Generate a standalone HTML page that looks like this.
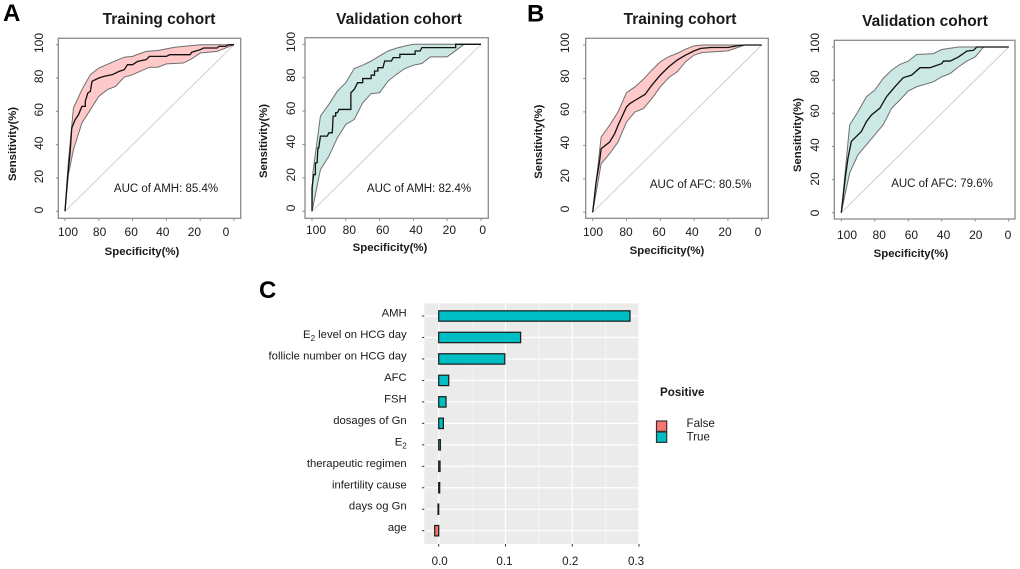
<!DOCTYPE html>
<html>
<head>
<meta charset="utf-8">
<title>ROC curves and feature importance</title>
<style>
html,body{margin:0;padding:0;background:#fff;width:1020px;height:569px;overflow:hidden}
svg{display:block;filter:blur(.3px)}
text{font-family:"Liberation Sans",sans-serif;fill:#1a1a1a}
</style>
</head>
<body>
<svg id="figure" xmlns="http://www.w3.org/2000/svg" width="1020" height="569" viewBox="0 0 1020 569">
  <text x="3" y="21" font-size="24" font-weight="bold" style="fill:#000">A</text>
  <text x="527" y="21.5" font-size="24" font-weight="bold" style="fill:#000">B</text>
  <text x="259" y="298" font-size="24" font-weight="bold" style="fill:#000">C</text>
</svg>
<script>
// ROC tick values
const rocTicks = [100, 80, 60, 40, 20, 0];
const rocDiagonal = [[100, 0], [0, 100]];

// Each curve: [specificity %, sensitivity %]
const a1Upper = [[100,0],[98,30],[95,62],[90,73],[85,82],[80,86],[72,89.5],[65,92.5],[60,93],[52,96],[45,96.5],[35,98.5],[20,100],[0,100]];
const a1Lower = [[100,0],[98,22],[95,37],[90,53],[85,61],[80,69],[75,73],[70,75],[65,80.5],[60,82],[50,86.5],[45,86.5],[40,88.5],[30,89],[25,91.5],[20,95],[10,96],[5,98],[0,100]];
const a1Mean = [[100,0],[98.5,20],[97,35],[96,50],[94,55],[92,58],[90,63],[88,63],[88,66],[86.5,71],[85,72],[84,78],[80,80],[77,81],[72,82],[68,84],[65,85],[63,88],[60,88],[57,90],[52,91],[50,93],[40,93],[38,94],[26,94],[25,95.5],[20,97],[18,98],[10,98],[9,99],[5,99],[3,100],[0,100]];

const a2Upper = [[100,0],[99.5,23],[95,57],[90,64],[85,72],[80,77],[75,85.5],[70,87.5],[65,90],[60,93],[55,96],[50,97.7],[45,99],[40,100],[15,100],[0,100]];
const a2Lower = [[100,0],[98,10],[95,25],[90,33],[85,44],[80,52],[75,55],[70,65],[65,70.5],[60,71],[55,78],[50,82],[45,85.5],[40,87.5],[35,88.5],[30,92.5],[20,92.5],[10,100],[0,100]];
const a2Mean = [[100,0],[100,14],[99,22],[98,22],[98,29],[97,29],[96.5,38],[96,38],[95,45],[91,45],[90,47],[88,47],[87.5,57],[86,57],[86,59],[85,59],[84,61],[77,61],[77,71],[75,73],[74,75],[73,77],[70,77],[70,79.5],[65,79.5],[65,81.5],[63,81.5],[63,84],[61,84],[61,86],[58,86],[57,90],[53,90],[52,92],[48,92],[48,94],[39,94],[39,96],[36,96],[35,98],[15,98],[15,100],[0,100]];

const b1Upper = [[100,0],[95,45],[90,52],[85,60],[80,71.5],[75,75],[70,79.5],[65,85],[60,90],[55,93],[50,95],[45,97.5],[40,99.5],[35,100],[20,100],[10,100],[0,100]];
const b1Lower = [[100,0],[95,29],[90,35],[85,42],[80,54],[75,60],[70,62],[65,68],[60,75],[55,80.5],[50,84],[45,90],[40,94],[35,95.5],[20,96.5],[10,100],[0,100]];
const b1Mean = [[100,0],[98,18],[96,30],[95,38],[90,42],[87,47],[85,52],[80,63],[78,65],[74,67.5],[69,70.5],[65,76],[60,82],[55,87],[50,91],[45,94],[40,96.5],[36,98],[30,98.5],[20,98.5],[15,99.5],[10,100],[0,100]];

const b2Upper = [[100,0],[95,53],[90,61],[85,70],[80,74],[75,81],[70,86],[65,89.5],[60,91.5],[55,95.5],[45,96],[40,98.5],[30,100],[0,100]];
const b2Lower = [[100,0],[98,10],[95,24],[90,35],[85,41],[80,47],[75,53],[70,63],[65,68],[60,73.5],[55,76],[45,79],[40,82],[35,84],[30,88],[25,91.5],[20,94],[15,100],[0,100]];
const b2Mean = [[100,0],[97.5,22],[96,33],[94,43],[90,47],[88,49],[85,55],[82,59],[77,63],[73,70],[68,76],[63,81.5],[58,83],[53,87.5],[47,87.5],[40,90],[39,91.5],[35,91.5],[30,94],[25,97.5],[21,98],[19,100],[0,100]];

// Feature importance
const featureNames = ["AMH","E2 level on HCG day","follicle number on HCG day","AFC","FSH","dosages of Gn","E2","therapeutic regimen","infertility cause","days og Gn","age"];
const featureValues = [0.2865,0.1227,0.099,0.015,0.011,0.007,0.0025,0.002,0.0015,-0.001,-0.006];
const importanceTicks = [0.0,0.1,0.2,0.3];
const importanceTickLabels = ["0.0","0.1","0.2","0.3"];
const importanceMinorTicks = [0.05,0.15,0.25];
const legendEntries = ["False","True"];

const NS = "http://www.w3.org/2000/svg";
const svg = document.getElementById("figure");
function mk(parent, tag, attrs, txt){
  const el = document.createElementNS(NS, tag);
  for (const k in attrs) el.setAttribute(k, attrs[k]);
  if (txt !== undefined) el.textContent = txt;
  parent.appendChild(el);
  return el;
}
function scaleLinear(d0, d1, r0, r1){
  return v => r0 + (v - d0) * (r1 - r0) / (d1 - d0);
}

function drawRoc(p){
  const g = mk(svg, "g", {});
  
  
  const X = scaleLinear(100, 0, p.x100, p.x0);
  const Y = scaleLinear(0, 100, p.y0, p.y100);
  const pts = a => a.map(d => X(d[0]).toFixed(2) + "," + Y(d[1]).toFixed(2)).join(" ");

  const band = mk(g, "polygon", {points: pts(p.upper.concat(p.lower.slice().reverse())), fill: p.fill, stroke: "none"});
  
  

  const diag = mk(g, "polyline", {points: pts(rocDiagonal), fill: "none", stroke: "#cfcfcf", "stroke-width": 1});
  
  

  const up = mk(g, "polyline", {points: pts(p.upper), fill: "none", stroke: "#6e6e6e", "stroke-width": 1});
  
  

  const lo = mk(g, "polyline", {points: pts(p.lower), fill: "none", stroke: "#6e6e6e", "stroke-width": 1});
  
  

  const mean = mk(g, "polyline", {points: pts(p.mean), fill: "none", stroke: "#111", "stroke-width": 1.3});
  
  

  const frame = mk(g, "rect", {x: p.fx0, y: p.fy0, width: p.fx1 - p.fx0, height: p.fy1 - p.fy0, fill: "none", stroke: "#8a8a8a", "stroke-width": 1.3});
  
  

  const LX = scaleLinear(100, 0, p.lx100, p.lx0);
  const LY = scaleLinear(0, 100, p.ly0, p.ly100);
  rocTicks.forEach(t => {
    const tx = mk(g, "line", {x1: X(t), x2: X(t), y1: p.fy1, y2: p.fy1 + 2.5, stroke: "#8a8a8a", "stroke-width": 1});
    
    

    const ty = mk(g, "line", {x1: p.fx0 - 2.5, x2: p.fx0, y1: Y(t), y2: Y(t), stroke: "#8a8a8a", "stroke-width": 1});
    
    

    const lx = mk(g, "text", {x: LX(t), y: p.lxY, "font-size": 12, "text-anchor": "middle"}, String(t));
    
    

    const ly = mk(g, "text", {transform: "translate(" + p.lyX + "," + LY(t) + ") rotate(-90)", "font-size": 12, "text-anchor": "middle"}, String(t));
    
    
  });

  const title = mk(g, "text", {x: p.tx, y: p.ty, "font-size": 15.5, "font-weight": "bold", "text-anchor": "middle"}, p.title);
  
  

  const xt = mk(g, "text", {x: p.xtX, y: p.xtY, "font-size": 11.4, "font-weight": "bold", "text-anchor": "middle"}, "Specificity(%)");
  
  

  const yt = mk(g, "text", {transform: "translate(" + p.ytX + "," + p.ytY + ") rotate(-90)", "font-size": 11.3, "font-weight": "bold", "text-anchor": "middle"}, "Sensitivity(%)");
  
  

  const auc = mk(g, "text", {x: p.aX, y: p.aY, "font-size": 11.5, "text-anchor": "middle"}, p.auc);
  
  
}

const PINK = "#ffc9c9", TEAL = "#cbe8e4";
drawRoc({id:"a-training",title:"Training cohort",auc:"AUC of AMH: 85.4%",upper:a1Upper,lower:a1Lower,mean:a1Mean,fill:PINK,
  fx0:58.3,fx1:240.7,fy0:38.3,fy1:218.3,x100:65,x0:234,y0:211.3,y100:44.7,
  lx100:68,lx0:226,lxY:236,ly0:210,ly100:43,lyX:43,tx:159,ty:24,xtX:142,xtY:255,ytX:16,ytY:144,aX:166,aY:192});
drawRoc({id:"a-validation",title:"Validation cohort",auc:"AUC of AMH: 82.4%",upper:a2Upper,lower:a2Lower,mean:a2Mean,fill:TEAL,
  fx0:305,fx1:488.3,fy0:37.7,fy1:218.3,x100:312,x0:481,y0:211.3,y100:44.3,
  lx100:316,lx0:482.7,lxY:234,ly0:208,ly100:42,lyX:295,tx:399,ty:24,xtX:390,xtY:251,ytX:267,ytY:141,aX:419,aY:192});
drawRoc({id:"b-training",title:"Training cohort",auc:"AUC of AFC: 80.5%",upper:b1Upper,lower:b1Lower,mean:b1Mean,fill:PINK,
  fx0:585.7,fx1:768.3,fy0:38.3,fy1:218.3,x100:592.7,x0:761.7,y0:212.3,y100:45,
  lx100:593,lx0:758,lxY:236,ly0:209,ly100:43,lyX:569,tx:680,ty:24,xtX:667,xtY:254,ytX:542,ytY:141.7,aX:700.7,aY:188});
drawRoc({id:"b-validation",title:"Validation cohort",auc:"AUC of AFC: 79.6%",upper:b2Upper,lower:b2Lower,mean:b2Mean,fill:TEAL,
  fx0:834.3,fx1:1015,fy0:40.3,fy1:219,x100:841.3,x0:1008.7,y0:212.7,y100:47,
  lx100:847,lx0:1008,lxY:239,ly0:213,ly100:43,lyX:819,tx:925,ty:26,xtX:911,xtY:257,ytX:801,ytY:135,aX:942,aY:187});

// Panel C
(function(){
  const g = mk(svg, "g", {});
  
  
  const left = 424.3, right = 639, top = 303.3, bottom = 544;
  const X = scaleLinear(0, 0.3, 438.7, 639);
  const Y = i => 316 + i * (530.7 - 316) / (featureNames.length - 1);

  const bg = mk(g, "rect", {x: left, y: top, width: right - left, height: bottom - top, fill: "#ebebeb"});
  
  

  importanceMinorTicks.forEach(t => {
    const l = mk(g, "line", {x1: X(t), x2: X(t), y1: top, y2: bottom, stroke: "#f7f7f7", "stroke-width": 0.7});
    
    
  });
  importanceTicks.forEach(t => {
    const l = mk(g, "line", {x1: X(t), x2: X(t), y1: top, y2: bottom, stroke: "#fff", "stroke-width": 1.2});
    
    
  });
  featureNames.forEach((n, i) => {
    const l = mk(g, "line", {x1: left, x2: right, y1: Y(i), y2: Y(i), stroke: "#fff", "stroke-width": 1.2});
    
    
  });

  featureNames.forEach((n, i) => {
    const v = featureValues[i];
    const x0 = Math.min(X(0), X(v)), x1 = Math.max(X(0), X(v));
    const bar = mk(g, "rect", {x: x0, y: Y(i) - 5.2, width: x1 - x0, height: 10.4, fill: v >= 0 ? "#00BFC4" : "#F8766D", stroke: "#1a1a1a", "stroke-width": 1.2});
    
    

    const tick = mk(g, "line", {x1: 422, x2: 424.3, y1: Y(i), y2: Y(i), stroke: "#333", "stroke-width": 1});
    
    

    const lab = mk(g, "text", {x: 406.7, y: Y(i) + 0.5, "font-size": 11.3, "text-anchor": "end"});
    
    
    if (n.indexOf("E2") === 0) {
      mk(lab, "tspan", {}, "E");
      mk(lab, "tspan", {dy: 3, "font-size": 8}, "2");
      const rest = n.slice(2);
      if (rest) mk(lab, "tspan", {dy: -3}, rest);
    } else {
      lab.textContent = n;
    }
  });

  importanceTicks.forEach((t, i) => {
    const tick = mk(g, "line", {x1: X(t), x2: X(t), y1: bottom, y2: bottom + 2.5, stroke: "#333", "stroke-width": 1});
    
    

    const lab = mk(g, "text", {x: X(t) - (i === 0 ? -1 : i + 0), y: 565, "font-size": 11.6, "text-anchor": "middle"}, importanceTickLabels[i]);
    
    
  });

  const lt = mk(g, "text", {x: 660, y: 396, "font-size": 11.6, "font-weight": "bold"}, "Positive");
  
  

  legendEntries.forEach((name, i) => {
    const key = mk(g, "rect", {x: 656.5, y: 421 + i * 11, width: 10.2, height: 10.4, fill: name === "False" ? "#F8766D" : "#00BFC4", stroke: "#333", "stroke-width": 1.2});
    
    

    const lab = mk(g, "text", {x: 686.5, y: 427 + i * 13.3, "font-size": 11.6}, name);
    
    
  });
})();
</script>
</body>
</html>
